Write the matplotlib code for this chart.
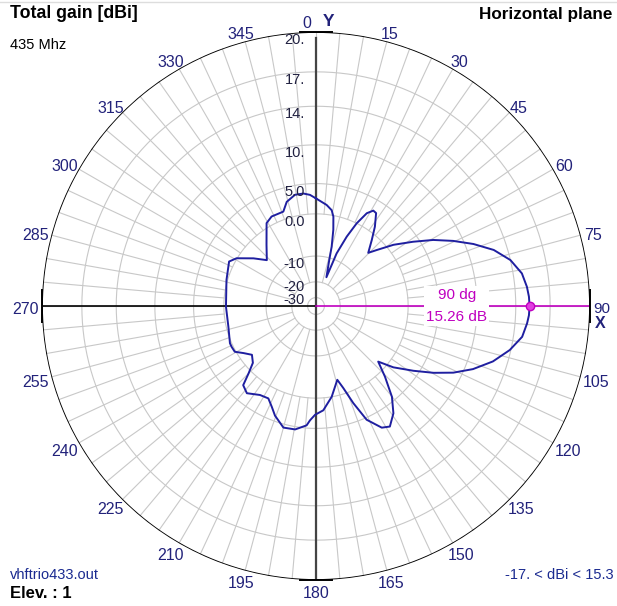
import numpy as np
import matplotlib.pyplot as plt

# horizontal plane pattern, azimuth (deg, clockwise from Y) and total gain (dBi)
azimuth = [0, 6, 9.3, 11, 12.8, 14.8, 16.1, 19.9, 21.4, 23.9, 26.2, 28.7, 31, 32.9,
           36.6, 40.2, 44.5, 47.3, 51.7, 56.5, 60.6, 64.6, 68.5, 72.5, 76.7, 81,
           84.8, 87.5, 90, 92.5, 94.7, 98.5, 102.8, 107.4, 111.9, 115.9, 119.6, 123.6,
           128.4, 131.8, 135.7, 140.1, 144.2, 148.5, 151.6, 156, 159, 161.6, 163.9,
           170.2, 176, 180.5, 183, 184.5, 189.6, 195, 200.5, 203.7, 207.3, 212.2,
           218.4, 222.6, 225, 228, 232.7, 237, 240.6, 244.2, 246.6, 256.7, 269.6,
           286.2, 297.1, 301, 307.3, 313, 321, 329.2, 333.6, 340.9, 344.3, 349.3,
           353.6, 356.9, 360]
gain = [2.7, 1.7, 0.9, -0.2, -2.8, -6.8, -10.7, -17.0, -8.1, -3.3, 0.0, 2.4, 3.3, 3.2,
        1.2, -1.1, -3.6, -1.9, 1.2, 4.1, 6.7, 8.9, 10.9, 12.7, 14.0, 14.8,
        15.1, 15.22, 15.26, 15.22, 15.1, 14.8, 13.9, 12.6, 10.9, 9.0, 6.8, 4.2,
        1.2, -1.7, 1.2, 4.4, 6.4, 7.6, 7.2, 5.3, 2.1, -1.1, -3.1,
        0.0, 2.2, 2.9, 3.8, 4.6, 5.4, 5.5, 4.2, 3.1, 2.1, 2.3,
        3.3, 2.7, 0.6, -1.4, -2.3, -1.1, 0.2, 0.3, 0.3, -0.4, -0.4,
        0.2, 1.0, 0.1, -2.7, -5.3, -2.7, 0.8, 1.4, 1.4, 2.8, 3.6,
        3.6, 3.3, 2.7]

ring_db = [-30, -20, -10, 0, 5, 10, 14, 17, 20]
ring_labels = ["-30", "-20", "-10", "0.0", "5.0", "10.", "14.", "17.", "20."]
angle_ticks = list(range(0, 360, 15))

peak_az = 90
peak_db = 15.26

# log-like radial scale of the plot (20 dBi on the outer circle)
K, C = 0.0492, 0.0565
def scale(db):
    return (np.exp(K * (np.asarray(db) - 20.0)) - C) / (1 - C)

W, H = 617, 606
CX, CY, R = 316, 306, 274
PT = 0.72  # points per pixel at 100 dpi
navy = "#22227a"
grid = "#c8c8c8"
plt.rcParams["font.family"] = ["Liberation Sans", "DejaVu Sans"]

fig = plt.figure(figsize=(W / 100, H / 100), dpi=100)
ax = fig.add_axes([(CX - R) / W, (H - CY - R) / H, 2 * R / W, 2 * R / H],
                  projection="polar")
ax.set_theta_zero_location("N")
ax.set_theta_direction(-1)
ax.set_ylim(0, 1)
ax.set_xticks([])
ax.set_yticks([])
ax.grid(False)
ax.spines["polar"].set_visible(False)

th = np.linspace(0, 2 * np.pi, 721)
# rings
for d in ring_db[:-1]:
    ax.plot(th, np.full_like(th, scale(d)), color=grid, lw=0.8)
# spokes
for a in range(0, 360, 5):
    r0 = scale(-20) if a % 15 == 0 else scale(0)
    ax.plot([np.radians(a)] * 2, [r0, 1], color=grid, lw=0.8)
# outer circle
ax.plot(th, np.ones_like(th), color="black", lw=1.3)

# axes
ax.plot([0, 0], [0, 0.978], color="#444444", lw=1.6)
ax.plot([np.pi, np.pi], [0, 1], color="#444444", lw=1.6)
ax.plot([np.radians(270)] * 2, [0, 1], color="black", lw=1.2)
ax.plot([np.radians(90)] * 2, [0, 1], color="#c000c0", lw=1.2)

# pattern
ax.plot(np.radians(azimuth), scale(gain), color="#1f1fa0", lw=1.4)
ax.plot(np.radians(peak_az), scale(peak_db), "o", ms=6, mfc="#e040e0",
        mec="#c000c0", mew=1)
ax.annotate("%d dg\n%.2f dB" % (peak_az, peak_db), xy=(np.radians(peak_az), scale(peak_db)),
            xytext=(-52.5, 0), textcoords="offset points", ha="center", va="center",
            color="#c000c0", fontsize=11, linespacing=1.75,
            bbox=dict(boxstyle="square,pad=0.15", fc="white", ec="none"))

# radial labels, right aligned a little left of the Y axis
for d, lab in zip(ring_db, ring_labels):
    up = 4.8 if d == -30 else (2 if d == -20 else -1)
    ax.annotate(lab, xy=(0, scale(d)), xytext=(-11 * PT, up * PT),
                textcoords="offset points", ha="right", va="top", fontsize=10.5,
                color="#202040")

# angle labels around the circle
for a in angle_ticks:
    if a in (0, 90):
        continue
    s, c = np.sin(np.radians(a)), np.cos(np.radians(a))
    lab = str(a)
    w = 8.3 * len(lab)
    dx = s * (w / 2 + 4)
    dy = c * 10.25 - 3
    ax.annotate(lab, xy=(np.radians(a), 1), xytext=(dx * PT, dy * PT),
                textcoords="offset points", ha="center", va="center",
                fontsize=11.5, color=navy)

special = [("0", 0, -9.5, 8.5, 11.5, "normal"), ("Y", 0, 12.5, 10, 12.5, "bold"),
           ("90", 90, 11.5, -3, 11, "normal"), ("X", 90, 10, -17, 11.5, "bold")]
for lab, a, dx, dy, fs, wt in special:
    ax.annotate(lab, xy=(np.radians(a), 1), xytext=(dx * PT, dy * PT),
                textcoords="offset points", ha="center", va="center",
                fontsize=fs, fontweight=wt, color=navy)

# short tangent ticks at the cardinal points
ov = fig.add_axes([0, 0, 1, 1], facecolor="none")
ov.set_xlim(0, W)
ov.set_ylim(H, 0)
ov.axis("off")
for a in (0, 90, 180, 270):
    s, c = np.sin(np.radians(a)), np.cos(np.radians(a))
    x0, y0 = CX + R * s, CY - R * c
    ov.plot([x0 - 16 * c, x0 + 16 * c], [y0 - 16 * s, y0 + 16 * s], color="black", lw=1.4)
ov.plot([0, W], [2, 2], color="#dddddd", lw=1)

# corner texts
fig.text(10 / W, 1 - 14 / H, "Total gain [dBi]", fontsize=12.8, fontweight="bold", va="center")
fig.text(612 / W, 1 - 14 / H, "Horizontal plane", fontsize=12.3, fontweight="bold",
         va="center", ha="right")
fig.text(10 / W, 1 - 45 / H, "435 Mhz", fontsize=10.5, va="center")
fig.text(10 / W, 1 - 575 / H, "vhftrio433.out", fontsize=10.5, va="center", color="#1a2a90")
fig.text(10 / W, 1 - 593 / H, "Elev. : 1", fontsize=12, fontweight="bold", va="center")
fig.text(614 / W, 1 - 575 / H, "-17. < dBi < 15.3", fontsize=10.5, va="center",
         ha="right", color="#1a2a90")

fig.savefig("out.png", dpi=100, facecolor="white")
